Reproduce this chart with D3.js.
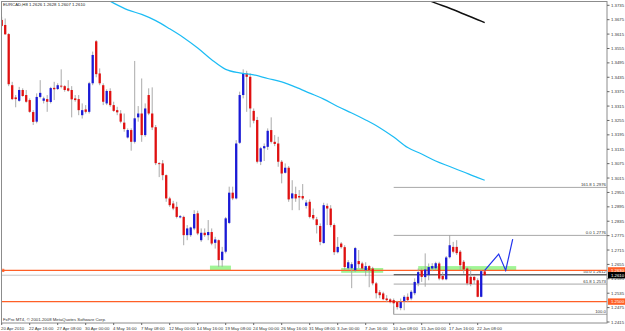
<!DOCTYPE html>
<html><head><meta charset="utf-8">
<script src="https://cdn.jsdelivr.net/npm/d3@7"></script>
<style>body{margin:0;background:#fff}svg{display:block}</style>
</head><body>
<svg id="c" width="625" height="331"></svg>
<script>
// ---------- data ----------
const symbol = "EURCAD,H8";
const openP  = [1.3674,1.3653,1.3615,1.3402,1.3351,1.3337,1.3382,1.3361,1.3340,1.3290,1.3250,1.3353,1.3337,1.3344,1.3332,1.3391,1.3386,1.3400,1.3398,1.3389,1.3382,1.3347,1.3344,1.3277,1.3301,1.3291,1.3410,1.3585,1.3451,1.3402,1.3326,1.3378,1.3319,1.3298,1.3284,1.3246,1.3184,1.3215,1.3166,1.3268,1.3284,1.3194,1.3361,1.3284,1.3227,1.3077,1.3076,1.3027,1.2930,1.2909,1.2895,1.2851,1.2853,1.2777,1.2777,1.2805,1.2868,1.2756,1.2787,1.2777,1.2790,1.2745,1.2756,1.2673,1.2708,1.2828,1.2954,1.2930,1.3162,1.3361,1.3451,1.3437,1.3295,1.3257,1.3083,1.3139,1.3145,1.3215,1.3166,1.3159,1.3083,1.3037,1.3058,1.2930,1.2948,1.2940,1.2940,1.2899,1.2916,1.2861,1.2843,1.2815,1.2744,1.2899,1.2888,1.2819,1.2706,1.2742,1.2727,1.2639,1.2639,1.2631,1.2669,1.2659,1.2631,1.2648,1.2638,1.2576,1.2539,1.2534,1.2513,1.2509,1.2506,1.2498,1.2473,1.2502,1.2520,1.2513,1.2535,1.2576,1.2631,1.2602,1.2610,1.2638,1.2639,1.2659,1.2607,1.2593,1.2685,1.2728,1.2728,1.2708,1.2666,1.2638,1.2603,1.2603,1.2589,1.2520,1.2626];
const highP  = [1.3687,1.3680,1.3619,1.3416,1.3361,1.3395,1.3389,1.3382,1.3347,1.3298,1.3368,1.3423,1.3354,1.3361,1.3395,1.3416,1.3410,1.3468,1.3402,1.3423,1.3398,1.3361,1.3361,1.3326,1.3319,1.3416,1.3542,1.3590,1.3472,1.3410,1.3385,1.3389,1.3333,1.3312,1.3298,1.3284,1.3222,1.3222,1.3503,1.3315,1.3430,1.3326,1.3389,1.3393,1.3236,1.3081,1.3090,1.3030,1.2937,1.2920,1.2916,1.2861,1.2858,1.2819,1.2812,1.2881,1.2879,1.2805,1.2805,1.2840,1.2805,1.2770,1.2759,1.2728,1.2853,1.2979,1.2979,1.3173,1.3375,1.3468,1.3462,1.3451,1.3305,1.3270,1.3145,1.3159,1.3222,1.3268,1.3194,1.3187,1.3090,1.3076,1.3065,1.3006,1.2979,1.2965,1.2990,1.2923,1.2926,1.2888,1.2853,1.2826,1.2912,1.2909,1.2902,1.2826,1.2769,1.2748,1.2735,1.2673,1.2664,1.2728,1.2715,1.2666,1.2664,1.2652,1.2645,1.2582,1.2548,1.2541,1.2527,1.2514,1.2513,1.2503,1.2513,1.2527,1.2534,1.2548,1.2597,1.2638,1.2638,1.2701,1.2659,1.2660,1.2666,1.2666,1.2624,1.2690,1.2777,1.2749,1.2756,1.2715,1.2673,1.2645,1.2638,1.2606,1.2597,1.2631,1.2628];
const lowP   = [1.3646,1.3613,1.3398,1.3340,1.3310,1.3333,1.3354,1.3329,1.3287,1.3236,1.3243,1.3347,1.3326,1.3291,1.3326,1.3340,1.3382,1.3389,1.3375,1.3375,1.3268,1.3333,1.3277,1.3263,1.3284,1.3284,1.3402,1.3435,1.3402,1.3319,1.3319,1.3312,1.3291,1.3277,1.3243,1.3208,1.3180,1.3129,1.3159,1.3250,1.3166,1.3187,1.3277,1.3215,1.3069,1.3019,1.3006,1.2916,1.2895,1.2881,1.2847,1.2847,1.2735,1.2756,1.2770,1.2798,1.2777,1.2749,1.2770,1.2756,1.2735,1.2721,1.2645,1.2645,1.2701,1.2823,1.2923,1.2926,1.3157,1.3347,1.3291,1.3226,1.3243,1.3076,1.3069,1.3086,1.3132,1.3159,1.3148,1.3062,1.2993,1.3034,1.2916,1.2881,1.2916,1.2881,1.2923,1.2888,1.2847,1.2840,1.2784,1.2735,1.2742,1.2819,1.2810,1.2694,1.2701,1.2721,1.2631,1.2631,1.2556,1.2624,1.2639,1.2631,1.2606,1.2560,1.2568,1.2513,1.2514,1.2506,1.2498,1.2493,1.2447,1.2467,1.2464,1.2464,1.2498,1.2506,1.2527,1.2564,1.2582,1.2562,1.2589,1.2627,1.2631,1.2589,1.2589,1.2589,1.2680,1.2701,1.2694,1.2631,1.2617,1.2568,1.2564,1.2573,1.2518,1.2518,1.2607];
const closeP = [1.3649,1.3614,1.3406,1.3344,1.3344,1.3382,1.3357,1.3333,1.3291,1.3249,1.3353,1.3370,1.3347,1.3333,1.3390,1.3385,1.3402,1.3396,1.3382,1.3379,1.3343,1.3340,1.3298,1.3298,1.3291,1.3410,1.3528,1.3448,1.3410,1.3333,1.3378,1.3319,1.3295,1.3289,1.3250,1.3219,1.3215,1.3166,1.3264,1.3284,1.3194,1.3305,1.3284,1.3226,1.3077,1.3073,1.3027,1.2930,1.2902,1.2888,1.2853,1.2856,1.2777,1.2805,1.2809,1.2865,1.2784,1.2787,1.2777,1.2790,1.2742,1.2759,1.2673,1.2708,1.2847,1.2954,1.2930,1.3159,1.3361,1.3451,1.3437,1.3305,1.3254,1.3083,1.3139,1.3148,1.3212,1.3166,1.3157,1.3083,1.3034,1.3058,1.2926,1.2951,1.2930,1.2934,1.2930,1.2913,1.2853,1.2847,1.2819,1.2749,1.2902,1.2888,1.2819,1.2706,1.2728,1.2727,1.2644,1.2664,1.2656,1.2723,1.2656,1.2638,1.2648,1.2631,1.2576,1.2535,1.2527,1.2510,1.2506,1.2498,1.2493,1.2477,1.2498,1.2520,1.2506,1.2541,1.2582,1.2623,1.2603,1.2634,1.2644,1.2648,1.2660,1.2596,1.2593,1.2684,1.2735,1.2708,1.2702,1.2652,1.2634,1.2576,1.2573,1.2589,1.2520,1.2627,1.2610];

// moving averages (bar index, value)
const maFastIdx = [28,32,36,40,44,48,52,56,60,64,68,72,76,80,84,88,92,96,100,104,108,112,116,120,124,128,132,136,138];
const maFastVal = [1.3776,1.3744,1.3716,1.3697,1.3671,1.3637,1.3600,1.3557,1.3508,1.3468,1.3453,1.3445,1.3430,1.3416,1.3394,1.3369,1.3344,1.3313,1.3286,1.3257,1.3225,1.3186,1.3142,1.3115,1.3086,1.3063,1.3040,1.3017,1.3006];
const maSlowIdx = [120,124,128,132,136,138];
const maSlowVal = [1.3767,1.3744,1.3723,1.3699,1.3675,1.3663];

// projection path
const projIdx = [138,142,144,146];
const projVal = [1.2630,1.2698,1.2630,1.2760];

// support zones [startIdx, endIdx, top, bottom]
const zoneStart = [59.5,97,119];
const zoneEnd   = [65.5,109,147];
const zoneTop   = [1.2650,1.2640,1.2648];
const zoneBot   = [1.2631,1.2620,1.2628];

// horizontal lines
const hLines = [1.2630,1.2500];
const bidPrice = 1.2610;

// fibonacci
const fibStart = 112;
const fibNames  = ["161.8","0.0","50.0","61.8","100.0"];
const fibPrices = [1.2976,1.2776,1.2612,1.2573,1.2447];
const fibShowPrice = [true,true,true,true,false];

// axes
const yTicks = [1.3735,1.3675,1.3615,1.3555,1.3495,1.3435,1.3375,1.3315,1.3255,1.3195,1.3135,1.3075,1.3015,1.2955,1.2895,1.2835,1.2775,1.2715,1.2655,1.2595,1.2535,1.2475,1.2415];
const timeLabels = ["20 Apr 2010","22 Apr 16:00","27 Apr 08:00","30 Apr 00:00","4 May 16:00","7 May 08:00","12 May 00:00","14 May 16:00","19 May 08:00","24 May 00:00","26 May 16:00","31 May 08:00","3 Jun 00:00","7 Jun 16:00","10 Jun 08:00","15 Jun 00:00","17 Jun 16:00","22 Jun 08:00"];
const timeStep = 8;
const footer = "FxPro MT4, \u00a9 2001-2008 MetaQuotes Software Corp.";

// ---------- drawing ----------
const svg = d3.select("#c");
const FONT = "'Liberation Sans', Arial, sans-serif";
const FS = 4.3;
const L = 1, T = 1, R = 607, B = 323;
const x = d3.scaleLinear().domain([0, 1]).range([1.7, 5.2]);
const y = d3.scaleLinear().domain([1.2415, 1.3735]).range([322, 5.3]);

svg.append("defs").append("clipPath").attr("id","clip")
  .append("rect").attr("x",L).attr("y",T).attr("width",R-L).attr("height",B-T);
const plot = svg.append("g").attr("clip-path","url(#clip)");

// zones
plot.selectAll(".zone").data(zoneStart).join("rect")
  .attr("x",(d,i)=>x(d)).attr("width",(d,i)=>x(zoneEnd[i])-x(d))
  .attr("y",(d,i)=>y(zoneTop[i])).attr("height",(d,i)=>y(zoneBot[i])-y(zoneTop[i]))
  .attr("fill","#a0f596");

// bid line
plot.append("line").attr("x1",L).attr("x2",R).attr("y1",y(bidPrice)).attr("y2",y(bidPrice))
  .attr("stroke","#c4c4c4").attr("stroke-width",1);

// fib lines
fibPrices.forEach((p,i)=>{
  plot.append("line").attr("x1",x(fibStart)).attr("x2",R)
    .attr("y1",y(p)).attr("y2",y(p))
    .attr("stroke", fibNames[i]==="50.0" ? "#3c3c3c" : "#a8a8a8").attr("stroke-width",1);
  plot.append("text").attr("x",R-1).attr("y",y(p)-1.3).attr("text-anchor","end")
    .attr("font-family",FONT).attr("font-size",FS).attr("fill","#333")
    .text(fibShowPrice[i] ? fibNames[i]+" "+d3.format(".4f")(p) : fibNames[i]);
});
plot.append("line").attr("x1",x(fibStart)).attr("x2",x(fibStart))
  .attr("y1",y(fibPrices[4])-8).attr("y2",y(fibPrices[4])).attr("stroke","#a8a8a8");

// horizontal orange lines
hLines.forEach(p=>{
  plot.append("line").attr("x1",L).attr("x2",R).attr("y1",y(p)).attr("y2",y(p))
    .attr("stroke","#ff5f26").attr("stroke-width",1.3);
});
plot.append("rect").attr("x",1.5).attr("y",y(hLines[0])-1.2).attr("width",2.4).attr("height",2.4)
  .attr("fill","none").attr("stroke","#ff5f26").attr("stroke-width",0.8);

// candles
const idx = d3.range(openP.length);
plot.selectAll(".wick").data(idx).join("line")
  .attr("x1",i=>x(i)).attr("x2",i=>x(i))
  .attr("y1",i=>y(highP[i])).attr("y2",i=>y(lowP[i]))
  .attr("stroke","#a0a0a0").attr("stroke-width",0.9);
plot.selectAll(".body").data(idx).join("rect")
  .attr("x",i=>x(i)-1.15).attr("width",2.3)
  .attr("y",i=>y(Math.max(openP[i],closeP[i])))
  .attr("height",i=>Math.max(0.9, Math.abs(y(openP[i])-y(closeP[i]))))
  .attr("fill",i=>closeP[i]>=openP[i] ? "#1a1ad6" : "#e01010");

// moving averages
const lineGen = d3.line().x(d=>x(d[0])).y(d=>y(d[1])).curve(d3.curveMonotoneX);
plot.append("path").datum(maFastIdx.map((d,i)=>[d,maFastVal[i]]))
  .attr("d",lineGen).attr("fill","none").attr("stroke","#1cbcf4").attr("stroke-width",1.2);
plot.append("path").datum(maSlowIdx.map((d,i)=>[d,maSlowVal[i]]))
  .attr("d",lineGen).attr("fill","none").attr("stroke","#101010").attr("stroke-width",1.5);

// projection
plot.append("path").datum(projIdx.map((d,i)=>[d,projVal[i]]))
  .attr("d",d3.line().x(d=>x(d[0])).y(d=>y(d[1])))
  .attr("fill","none").attr("stroke","#2233ee").attr("stroke-width",1.2);

// frame
svg.append("rect").attr("x",L+0.5).attr("y",T+0.5).attr("width",R-L-0.5).attr("height",B-T-0.5)
  .attr("fill","none").attr("stroke","#8c8c8c").attr("stroke-width",1);

// y axis
const yAxis = svg.append("g");
yTicks.forEach(t=>{
  yAxis.append("line").attr("x1",R).attr("x2",R+2.5).attr("y1",y(t)).attr("y2",y(t)).attr("stroke","#666");
  yAxis.append("text").attr("x",R+4).attr("y",y(t)+1.6).attr("font-family",FONT)
    .attr("font-size",FS).attr("fill","#333").text(d3.format(".4f")(t));
});
function priceTag(p, bg){
  yAxis.append("rect").attr("x",R+1).attr("y",y(p)-3.2).attr("width",17.5).attr("height",6.4).attr("fill",bg);
  yAxis.append("text").attr("x",R+4).attr("y",y(p)+1.6).attr("font-family",FONT)
    .attr("font-size",FS).attr("fill","#fff").text(d3.format(".4f")(p));
}
priceTag(hLines[0],"#ff5f26");
priceTag(hLines[1],"#ff5f26");
priceTag(bidPrice,"#000");

// time axis
timeLabels.forEach((t,i)=>{
  const k = i*timeStep;
  svg.append("line").attr("x1",x(k)).attr("x2",x(k)).attr("y1",B).attr("y2",B+2).attr("stroke","#666");
  svg.append("text").attr("x",x(k)-0.7).attr("y",329.5).attr("font-family",FONT)
    .attr("font-size",FS).attr("fill","#333").text(t);
});

// header & footer
const last = openP.length-1;
svg.append("text").attr("x",3).attr("y",6).attr("font-family",FONT).attr("font-size",FS).attr("fill","#222")
  .text(symbol+"  "+[openP[last],highP[last],lowP[last],closeP[last]].map(d3.format(".4f")).join(" "));
svg.append("text").attr("x",3).attr("y",320.6).attr("font-family",FONT).attr("font-size",FS).attr("fill","#333")
  .text(footer);
</script>
</body></html>
